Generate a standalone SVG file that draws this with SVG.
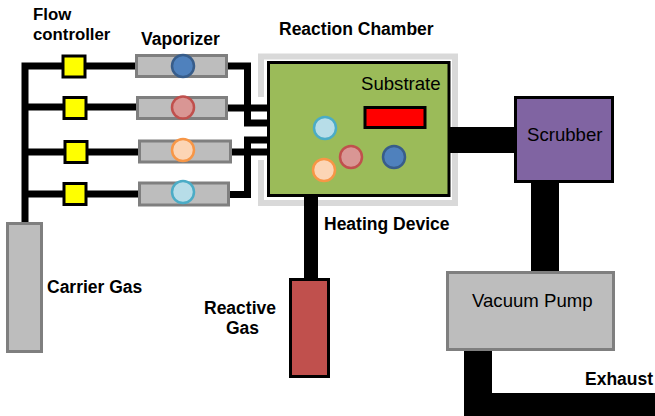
<svg xmlns="http://www.w3.org/2000/svg" width="655" height="416" viewBox="0 0 655 416">
<style>
text{font-family:"Liberation Sans",Arial,sans-serif;fill:#000}
.b{font-size:17.500px;font-weight:bold}
.r{font-size:18.600px}
.fc{fill:#ff0;stroke:#000;stroke-width:3}
.vap{fill:#bdbdbd;stroke:#7f7f7f;stroke-width:3}
.c{stroke-width:2.500}
.pipe{fill:none;stroke:#000;stroke-linecap:butt;stroke-linejoin:miter}
</style>
<rect width="655" height="416" fill="#fff"/>
<g id="chamber-shell" fill="none" stroke="#d9d9d9" stroke-width="6">
<path d="M261 97V56.500H455V203H261V160"/>
</g>
<g id="connectors">
<path class="pipe" stroke-width="7" d="M25 223V66H63M86 66H136M25 107H64M86 107H137M25 152H65M88 152H139M25 194H64M86 194H139"/>
<path class="pipe" stroke-width="7" d="M227 66H247.500V123H270M227 108H270M230 152H268M230 194.500H247.500V140H268"/>
<path class="pipe" stroke-width="14" d="M311 195V279"/>
<path class="pipe" stroke-width="26" d="M448 140H516"/>
<path class="pipe" stroke-width="28" d="M545 181V272"/>
<path class="pipe" stroke-width="28" d="M478 349V416"/>
<path class="pipe" stroke-width="23" d="M464 404.500H655"/>
</g>
<g id="flow-controller-1"><rect class="fc" x="63" y="56" width="22" height="21"/></g>
<g id="flow-controller-2"><rect class="fc" x="64" y="97.500" width="22" height="21"/></g>
<g id="flow-controller-3"><rect class="fc" x="65" y="141.500" width="22" height="21"/></g>
<g id="flow-controller-4"><rect class="fc" x="64" y="183.500" width="22" height="21"/></g>
<g id="vaporizer-1"><rect class="vap" x="136.500" y="55.500" width="90" height="21"/><circle class="c" cx="183" cy="66" r="11" fill="#4f81bd" stroke="#385d8a"/></g>
<g id="vaporizer-2"><rect class="vap" x="137.500" y="97.500" width="89" height="21"/><circle class="c" cx="183" cy="107.500" r="11" fill="#d99694" stroke="#c0504d"/></g>
<g id="vaporizer-3"><rect class="vap" x="139.500" y="141" width="91" height="21"/><circle class="c" cx="183" cy="150" r="11" fill="#fcd5b5" stroke="#f79646"/></g>
<g id="vaporizer-4"><rect class="vap" x="139.500" y="183" width="89" height="22"/><circle class="c" cx="183" cy="192" r="11" fill="#b7dde8" stroke="#4bacc6"/></g>
<g id="chamber">
<rect x="268.500" y="62.500" width="180.500" height="133" fill="#9bbb59" stroke="#000" stroke-width="3"/>
<rect x="365" y="107.500" width="60" height="20" fill="#f00" stroke="#000" stroke-width="3"/>
<circle class="c" cx="325" cy="128" r="11" fill="#b7dde8" stroke="#4bacc6"/>
<circle class="c" cx="351" cy="157" r="11" fill="#d99694" stroke="#c0504d"/>
<circle class="c" cx="394" cy="157" r="11" fill="#4f81bd" stroke="#385d8a"/>
<circle class="c" cx="324" cy="170" r="11" fill="#fcd5b5" stroke="#f79646"/>
<text class="r" x="361" y="90">Substrate</text>
</g>
<g id="scrubber"><rect x="515.500" y="97.500" width="97" height="84" fill="#8064a2" stroke="#000" stroke-width="3"/><text class="r" x="527" y="141">Scrubber</text></g>
<g id="vacuum-pump"><rect x="447.500" y="272.500" width="166" height="77" fill="#bdbdbd" stroke="#7f7f7f" stroke-width="3"/><text class="r" x="472" y="307">Vacuum Pump</text></g>
<g id="carrier-gas"><rect x="7.500" y="223.500" width="34" height="128" fill="#bdbdbd" stroke="#7f7f7f" stroke-width="3"/></g>
<g id="reactive-gas"><rect x="290.500" y="279.500" width="38" height="97" fill="#c0504d" stroke="#000" stroke-width="3"/></g>
<g id="labels">
<text class="b" x="33" y="20" style="font-size:16.800px">Flow</text>
<text class="b" x="33" y="40" style="font-size:16.800px">controller</text>
<text class="b" x="141" y="45">Vaporizer</text>
<text class="b" x="279" y="35">Reaction Chamber</text>
<text class="b" x="324" y="230">Heating Device</text>
<text class="b" x="47" y="293">Carrier Gas</text>
<text class="b" x="204" y="314">Reactive</text>
<text class="b" x="226" y="334">Gas</text>
<text class="b" x="585" y="385">Exhaust</text>
</g>
</svg>
